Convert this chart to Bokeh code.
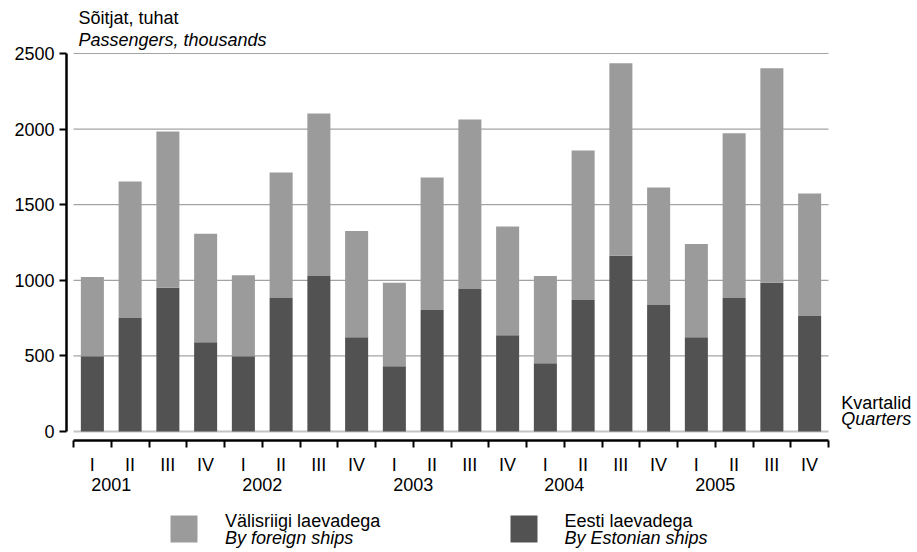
import numpy as np
from bokeh.plotting import figure
from bokeh.layouts import column
from bokeh.models import (Range1d, LinearAxis, FixedTicker, Label, BoxAnnotation,
                          ColumnDataSource)
from bokeh.embed import file_html
from bokeh.resources import INLINE

# ---------------- data ----------------
years = ["2001", "2002", "2003", "2004", "2005"]
quarters = ["I", "II", "III", "IV"]
estonian = [498, 750, 950, 591, 498, 883, 1029, 624, 432, 803,
            943, 637, 452, 870, 1162, 837, 624, 883, 983, 764]
foreign = [524, 903, 1034, 717, 536, 830, 1074, 702, 551, 877,
           1120, 719, 577, 988, 1274, 777, 616, 1089, 1420, 810]
y_ticks = [0, 500, 1000, 1500, 2000, 2500]
series_et = ["Välisriigi laevadega", "Eesti laevadega"]
series_en = ["By foreign ships", "By Estonian ships"]
y_title = ["Sõitjat, tuhat", "Passengers, thousands"]
x_title = ["Kvartalid", "Quarters"]

# ---------------- style / geometry ----------------
FONT = "Liberation Sans"
FS = "18px"
C_FOREIGN = "#9b9b9b"
C_EST = "#525252"
W = 917
H_MAIN = 504
H_LEG = 48
FRAME_LEFT = 66          # y-axis line position
CAT_PX = 37.75           # pixel width of one quarter
FIRST_CAT_PX = 73        # left edge of first category
Y_PX_PER_UNIT = 0.1512
ZERO_PX = 431
FRAME_BOTTOM = 440       # x-axis line position
BASE_FIX = 6             # compensation for alphabetic baseline placement

n = len(years) * len(quarters)
xc = np.arange(n) + 0.5
q_labels = [q for _ in years for q in quarters]
source = ColumnDataSource(dict(x=xc, estonian=estonian, foreign=foreign))

x_start = -(FIRST_CAT_PX - FRAME_LEFT) / CAT_PX
x_end = x_start + (W - FRAME_LEFT) / CAT_PX
y_start = -(FRAME_BOTTOM - ZERO_PX) / Y_PX_PER_UNIT
y_end = ZERO_PX / Y_PX_PER_UNIT

p = figure(width=W, height=H_MAIN, output_backend="svg", toolbar_location=None,
           x_range=Range1d(x_start, x_end), y_range=Range1d(y_start, y_end),
           x_axis_type=None, y_axis_type=None,
           min_border_left=FRAME_LEFT, min_border_right=0, min_border_top=0,
           min_border_bottom=H_MAIN - FRAME_BOTTOM)
p.outline_line_color = None
p.background_fill_color = "white"
p.border_fill_color = "white"

# grid lines (only across the category span)
p.segment(x0=0, x1=n, y0=y_ticks[1:], y1=y_ticks[1:], line_color="#a3a3a3", line_width=1.2)
p.segment(x0=0, x1=n, y0=y_ticks[0], y1=y_ticks[0], line_color="#c4c4c4", line_width=2)

# stacked bars
rs = p.vbar_stack(["estonian", "foreign"], x="x", width=0.61, source=source,
                  fill_color=[C_EST, C_FOREIGN], line_color=None)

# y axis
yax = LinearAxis(ticker=FixedTicker(ticks=y_ticks), bounds=(0, 2500),
                 axis_line_width=2.5, axis_line_color="black",
                 major_tick_out=7, major_tick_in=0, major_tick_line_width=2,
                 major_tick_line_color="black",
                 minor_tick_line_color=None,
                 major_label_standoff=5,
                 major_label_text_font=FONT, major_label_text_font_size=FS,
                 major_label_text_color="black")
p.add_layout(yax, "left")

# x axis: line + boundary ticks + quarter labels
xax = LinearAxis(ticker=FixedTicker(ticks=list(xc), minor_ticks=list(range(n + 1))),
                 bounds=(0, n),
                 axis_line_width=2.5, axis_line_color="black",
                 major_tick_line_color=None, major_tick_out=0, major_tick_in=0,
                 minor_tick_out=7, minor_tick_in=0, minor_tick_line_width=2,
                 minor_tick_line_color="black",
                 major_label_standoff=7,
                 major_label_overrides={float(x): q for x, q in zip(xc, q_labels)},
                 major_label_text_font=FONT, major_label_text_font_size=FS,
                 major_label_text_color="black")
p.add_layout(xax, "below")

# year labels
year_pos = [float(i * len(quarters) + 1) for i in range(len(years))]
yrax = LinearAxis(ticker=FixedTicker(ticks=year_pos, minor_ticks=[]),
                  axis_line_color=None, major_tick_line_color=None,
                  minor_tick_line_color=None, major_tick_out=0, major_tick_in=0,
                  major_label_standoff=0,
                  major_label_overrides={x: y for x, y in zip(year_pos, years)},
                  major_label_text_font=FONT, major_label_text_font_size=FS,
                  major_label_text_color="black")
p.add_layout(yrax, "below")


def lab(fig, x, y, text, italic=False):
    fig.add_layout(Label(x=x, y=y + BASE_FIX, x_units="screen", y_units="screen",
                         text=text, text_font=FONT, text_font_size=FS,
                         text_color="black",
                         text_font_style="italic" if italic else "normal",
                         text_baseline="alphabetic", text_align="left"))


# axis titles (inside the frame area, which spans to the canvas edges)
lab(p, 12, FRAME_BOTTOM - 23, y_title[0])
lab(p, 12, FRAME_BOTTOM - 45, y_title[1], True)
lab(p, 774.7, FRAME_BOTTOM - 408, x_title[0])
lab(p, 774.7, FRAME_BOTTOM - 424, x_title[1], True)

# ---------------- legend strip ----------------
lf = figure(width=W, height=H_LEG, output_backend="svg", toolbar_location=None,
            x_range=Range1d(0, W - FRAME_LEFT), y_range=Range1d(0, H_LEG),
            x_axis_type=None, y_axis_type=None,
            min_border_left=FRAME_LEFT, min_border_right=0,
            min_border_top=0, min_border_bottom=0)
lf.outline_line_color = None
lf.xgrid.visible = False
lf.ygrid.visible = False


def swatch(left_px, top_px, color):
    lf.add_layout(BoxAnnotation(left=left_px - FRAME_LEFT, right=left_px - FRAME_LEFT + 27,
                                top=H_MAIN + H_LEG - top_px,
                                bottom=H_MAIN + H_LEG - top_px - 27,
                                left_units="screen", right_units="screen",
                                top_units="screen", bottom_units="screen",
                                fill_color=color, fill_alpha=1.0, line_color=None))


def leg_text(x_px, base_px, text, italic=False):
    lab(lf, x_px - FRAME_LEFT, H_MAIN + H_LEG - base_px, text, italic)


swatch(170, 515, C_FOREIGN)
swatch(510, 515, C_EST)
leg_text(224.6, 526.7, series_et[0])
leg_text(224.6, 543.3, series_en[0], True)
leg_text(564, 526.7, series_et[1])
leg_text(564, 543.3, series_en[1], True)

layout = column(p, lf, spacing=0)
open("out.html", "w").write(file_html(layout, INLINE))
